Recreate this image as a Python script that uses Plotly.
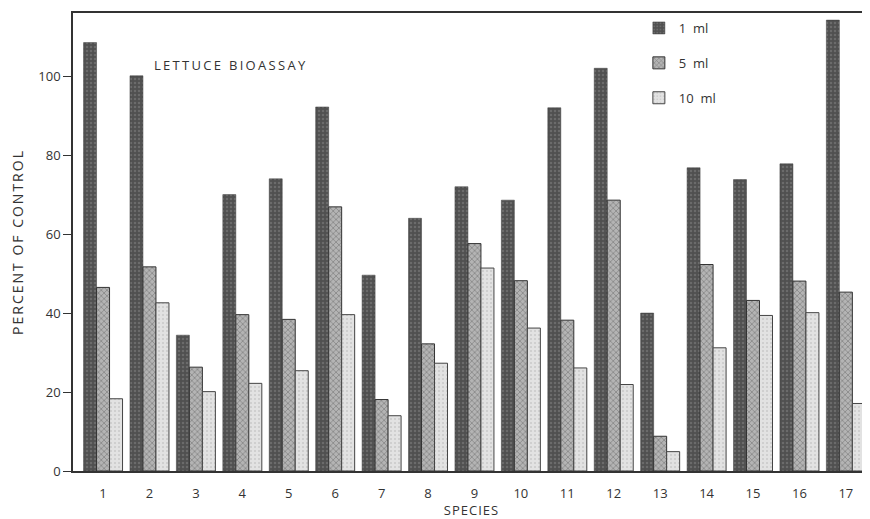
import plotly.graph_objects as go

species = list(range(1, 18))
tick_labels = [str(s) for s in species]
ml1 = [108.5, 100.1, 34.4, 70.0, 74.0, 92.2, 49.6, 64.0, 72.0, 68.6, 92.0, 102.0, 40.0, 76.8, 73.8, 77.8, 114.2]
ml5 = [46.5, 51.7, 26.3, 39.6, 38.4, 66.9, 18.1, 32.2, 57.6, 48.2, 38.2, 68.6, 8.8, 52.3, 43.2, 48.1, 45.3]
ml10 = [18.3, 42.6, 20.1, 22.2, 25.4, 39.6, 14.0, 27.3, 51.4, 36.2, 26.1, 21.9, 4.9, 31.2, 39.4, 40.1, 17.1]
series_names = ["1  ml", "5  ml", "10  ml"]

FONT = "Open Sans, DejaVu Sans, sans-serif"
TXT = "#333333"

fig = go.Figure()
styles = [
    dict(color="#555555", pattern=dict(shape=".", fgcolor="#858585", bgcolor="#505050", size=4, solidity=0.3),
         line=dict(color="#3a3a3a", width=0.5)),
    dict(color="#8a8a8a", pattern=dict(shape="x", fgcolor="#555555", bgcolor="#b4b4b4", size=4, solidity=0.35),
         line=dict(color="#333333", width=1)),
    dict(color="#d8d8d8", pattern=dict(shape=".", fgcolor="#b0b0b0", bgcolor="#e2e2e2", size=4, solidity=0.2),
         line=dict(color="#444444", width=1)),
]
for name, vals, st, g in zip(series_names, [ml1, ml5, ml10], styles, ["a", "b", "c"]):
    fig.add_trace(go.Bar(
        x=species, y=vals, name=name, legendgroup=g,
        marker=dict(color=st["color"], pattern=st["pattern"], line=st["line"]),
    ))

fig.update_layout(
    width=862, height=511,
    margin=dict(l=65, r=0, t=5, b=48),
    paper_bgcolor="white", plot_bgcolor="white",
    barmode="group", bargap=0.16, bargroupgap=0.0,
    font=dict(family=FONT, color=TXT, size=13),
    showlegend=True,
    legend=dict(x=0.71, y=1.0, xanchor="left", yanchor="top",
                bgcolor="rgba(0,0,0,0)", font=dict(size=13, color=TXT),
                tracegroupgap=15, itemwidth=30),
    annotations=[
        dict(text='<span style="letter-spacing:2.3px">LETTUCE BIOASSAY</span>', x=0.099, y=0.886,
             xref="paper", yref="paper", xanchor="left", yanchor="middle",
             showarrow=False, font=dict(size=13, color=TXT, family=FONT)),
    ],
)

fig.update_xaxes(
    range=[0.353, 17.52], tickmode="array", tickvals=species, ticktext=tick_labels,
    showline=True, linecolor="#333333", linewidth=1.5, mirror=True,
    ticks="", showgrid=False, zeroline=False, ticklabelstandoff=10,
    title=dict(text='<span style="letter-spacing:1px">SPECIES</span>', font=dict(size=13, color=TXT), standoff=8),
    tickfont=dict(size=13, color=TXT),
)
fig.update_yaxes(
    range=[0, 116], tickvals=[0, 20, 40, 60, 80, 100],
    showline=True, linecolor="#333333", linewidth=1.5, mirror=False,
    ticks="outside", ticklen=8, tickcolor="#333333", showgrid=False, zeroline=False,
    title=dict(text='<span style="letter-spacing:2px">PERCENT OF CONTROL</span>', font=dict(size=14, color=TXT), standoff=14),
    tickfont=dict(size=13, color=TXT),
)

fig.write_html("out.html")
